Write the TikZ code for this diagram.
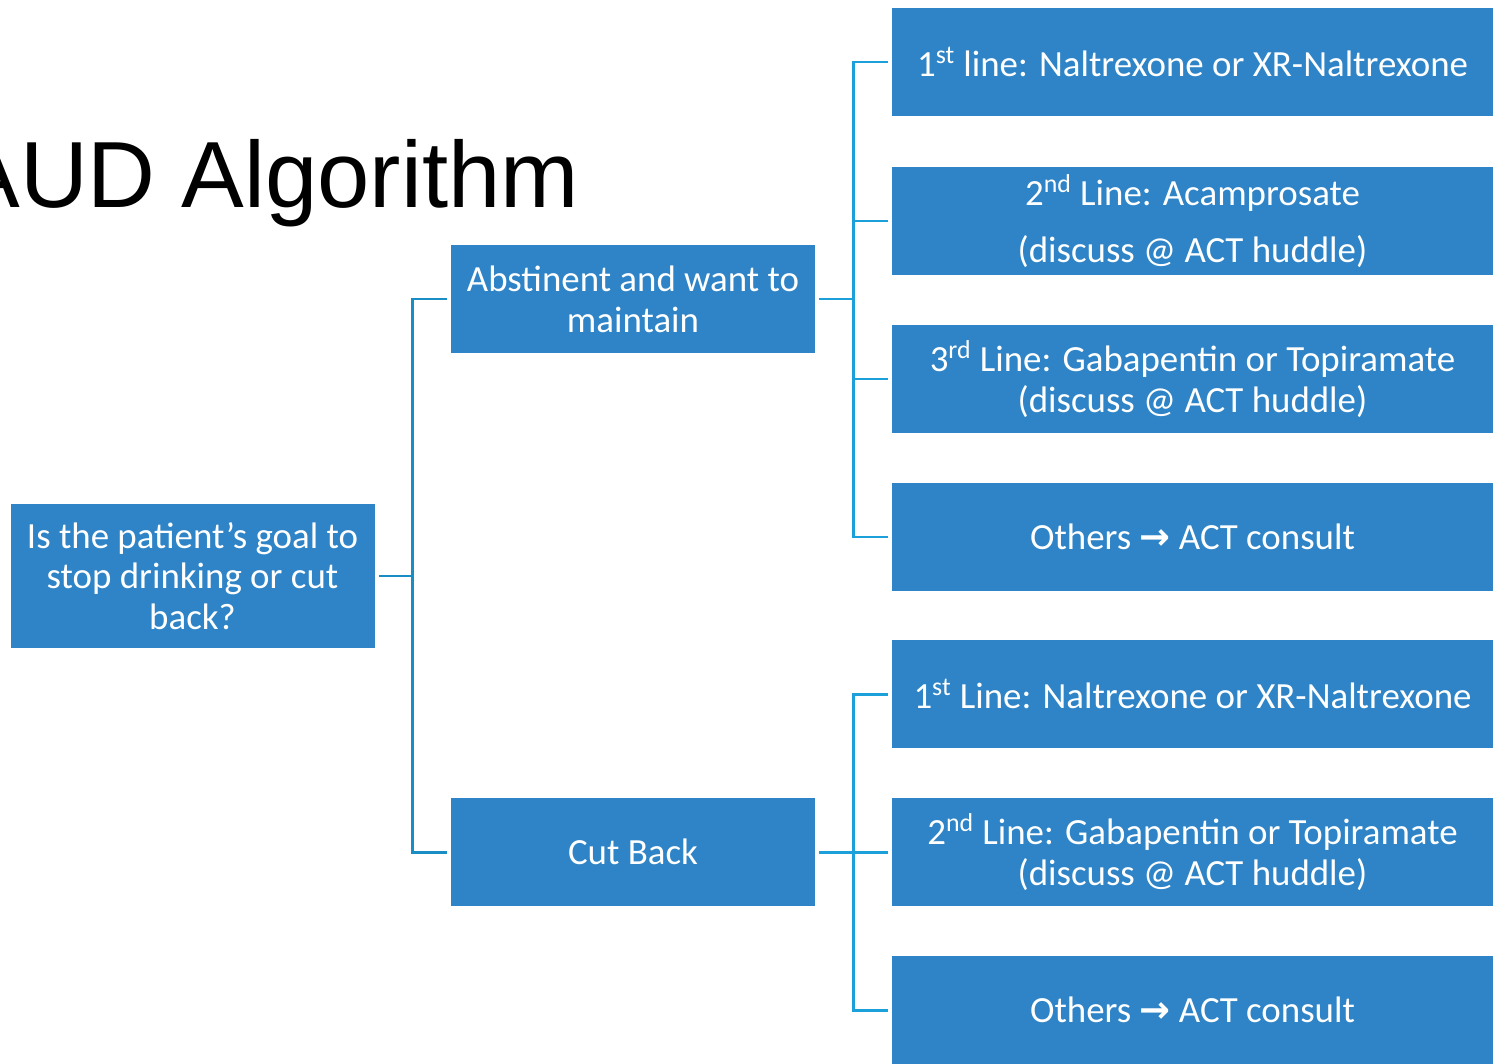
\documentclass[tikz,border=0pt]{standalone}
\usepackage{fontspec}
\setmainfont{Carlito}
\newfontfamily\titlefont{Liberation Sans}
\newfontfamily\arrowfont{DejaVu Sans}
\usepackage{xcolor}
\usetikzlibrary{positioning}

\definecolor{boxblue}{HTML}{2E84C6}
\definecolor{linkdark}{HTML}{1A8DC4}
\definecolor{linklight}{HTML}{1BA0DA}

\newcommand{\toarrow}{{\arrowfont\bfseries\char"2192}}

\begin{document}
\begin{tikzpicture}[
    x=0.02cm, y=-0.02cm,
    box/.style={fill=boxblue, rectangle, align=center, text=white, inner sep=0pt,
        minimum height=108*0.02cm, font=\fontsize{21}{23.2}\selectfont},
    midbox/.style={box, minimum width=364*0.02cm},
    drugbox/.style={box, minimum width=601*0.02cm},
    link/.style={line width=1.7pt, draw=linklight},
    linkin/.style={line width=1.7pt, draw=linkdark}
]
    \clip (0,0) rectangle (1493,1064);
    \fill[white] (0,0) rectangle (1493,1064);

    % title
    \node (title) [anchor=base west, inner sep=0pt, font=\titlefont\fontsize{53.5}{60}\selectfont] at (-43,208) {AUD Algorithm};

    % question and goals
    \node (goal) [box, minimum width=364*0.02cm, minimum height=144*0.02cm] at (192.5,576) {Is the patient’s goal to\\stop drinking or cut\\back?};
    \node (abst) [midbox] at (633,299) {Abstinent and want to\\maintain};
    \node (cut) [midbox] at (633,852) {Cut Back};

    % medication options
    \node (a1) [drugbox] at (1192.5,62) {1\textsuperscript{st} line: Naltrexone or XR-Naltrexone};
    \node (a2) [drugbox] at (1192.5,221) {2\textsuperscript{nd} Line: Acamprosate\\[9pt](discuss @ ACT huddle)};
    \node (a3) [drugbox] at (1192.5,379) {3\textsuperscript{rd} Line: Gabapentin or Topiramate\\(discuss @ ACT huddle)};
    \node (a4) [drugbox] at (1192.5,537) {Others \toarrow{} ACT consult};
    \node (c1) [drugbox] at (1192.5,694) {1\textsuperscript{st} Line: Naltrexone or XR-Naltrexone};
    \node (c2) [drugbox] at (1192.5,852) {2\textsuperscript{nd} Line: Gabapentin or Topiramate\\(discuss @ ACT huddle)};
    \node (c3) [drugbox] at (1192.5,1010) {Others \toarrow{} ACT consult};

    % junctions
    \coordinate (jgoal) at (412,576);
    \coordinate (jabst) at (853,299);
    \coordinate (jcut) at (853,852);

    \path [linkin, shorten <=2.3pt] (goal.east) -- (jgoal);
    \path [linkin, shorten <=2.3pt, shorten >=2.3pt] (abst.west) -| (jgoal) |- (cut.west);

    \path [link, shorten <=2.3pt] (abst.east) -- (jabst);
    \path [link, shorten <=2.3pt, shorten >=2.3pt] (a1.west) -| (jabst) |- (a4.west);
    \path [link, shorten >=2.3pt] (jabst) |- (a2.west);
    \path [link, shorten >=2.3pt] (jabst) |- (a3.west);

    \path [link, shorten <=2.3pt] (cut.east) -- (jcut);
    \path [link, shorten <=2.3pt, shorten >=2.3pt] (c1.west) -| (jcut) |- (c3.west);
    \path [link, shorten >=2.3pt] (jcut) -- (c2.west);
\end{tikzpicture}
\end{document}
